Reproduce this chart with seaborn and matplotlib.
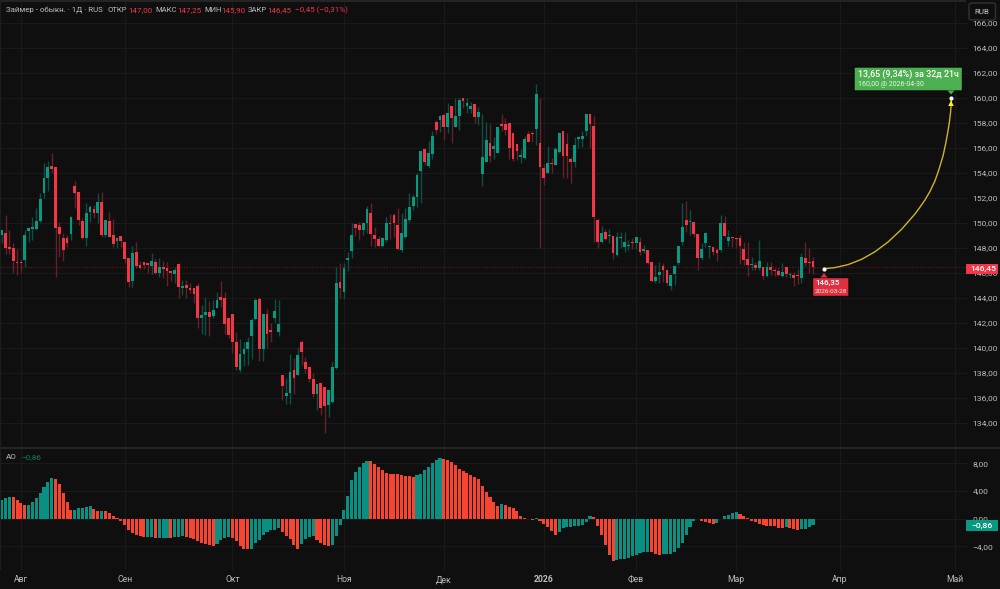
import numpy as np
import pandas as pd
import matplotlib
matplotlib.use("Agg")
import matplotlib.pyplot as plt
from matplotlib.patches import FancyBboxPatch, Polygon, Rectangle
import seaborn as sns

opens = [
    149.04, 149.17, 148.08, 148.00, 146.88, 146.88, 147.07, 149.39, 149.49, 149.52, 150.16, 152.40,
    153.57, 154.56, 154.51, 149.68, 148.80, 148.80, 149.12, 152.96, 152.48, 150.16, 148.77, 150.85,
    151.09, 150.83, 151.68, 149.04, 150.19, 149.04, 148.59, 148.96, 148.48, 147.20, 145.36, 147.65,
    146.64, 146.85, 146.80, 146.56, 146.88, 146.03, 146.51, 146.43, 146.16, 145.95, 146.69, 144.83,
    145.04, 144.83, 144.80, 144.99, 142.43, 142.61, 142.88, 142.53, 143.23, 144.08, 144.03, 142.43,
    142.69, 140.51, 138.27, 139.55, 139.95, 140.99, 142.35, 143.89, 139.92, 142.75, 141.44, 142.40,
    141.31, 137.81, 136.19, 136.37, 138.24, 137.87, 140.48, 138.88, 138.45, 137.52, 136.32, 137.17,
    136.88, 135.47, 135.65, 138.40, 145.31, 144.50, 147.04, 147.76, 149.95, 149.84, 149.41, 150.03,
    150.77, 149.04, 148.72, 148.16, 148.64, 150.00, 150.67, 149.84, 147.84, 148.88, 150.21, 151.36,
    152.08, 154.19, 155.95, 154.53, 155.52, 158.11, 158.27, 158.64, 157.68, 159.39, 157.68, 158.56,
    159.97, 159.36, 159.12, 159.49, 158.48, 153.92, 154.91, 156.40, 155.89, 155.63, 157.95, 157.95,
    158.03, 157.17, 156.32, 155.28, 155.17, 157.12, 157.23, 157.49, 156.43, 154.37, 154.00, 154.80,
    154.67, 155.68, 157.33, 156.32, 155.12, 154.91, 156.72, 156.75, 157.39, 158.75, 157.76, 150.24,
    148.45, 149.28, 148.96, 148.99, 147.44, 148.83, 148.11, 148.13, 148.48, 148.40, 148.48, 147.79,
    147.84, 146.91, 145.39, 145.87, 146.59, 146.24, 144.99, 145.95, 146.77, 148.45, 150.24, 150.11,
    150.08, 149.12, 147.20, 148.37, 148.05, 148.05, 147.84, 147.84, 150.00, 148.59, 148.85, 148.83,
    148.80, 147.89, 147.09, 146.61, 146.67, 146.43, 146.45, 145.76, 146.48, 146.24, 146.16, 145.76,
    146.48, 145.84, 145.87, 145.84, 145.63, 147.17, 146.88, 147.00,
]
highs = [
    149.44, 150.64, 149.44, 148.43, 147.89, 147.09, 149.44, 149.65, 150.45, 151.17, 152.37, 154.83,
    154.99, 155.63, 154.51, 150.08, 149.23, 149.04, 150.56, 153.36, 152.48, 150.37, 151.57, 151.44,
    151.44, 152.43, 152.48, 150.24, 150.91, 150.32, 148.91, 148.96, 148.48, 147.20, 148.19, 148.45,
    146.99, 146.85, 146.80, 147.63, 147.23, 147.17, 146.99, 146.91, 146.16, 146.51, 146.77, 145.44,
    145.44, 145.23, 144.80, 145.17, 143.44, 144.05, 143.79, 143.84, 144.45, 145.39, 144.51, 142.43,
    142.69, 141.31, 140.72, 140.51, 140.91, 142.37, 143.97, 144.11, 142.75, 143.13, 141.97, 143.92,
    143.84, 137.81, 137.57, 139.52, 139.17, 140.11, 140.64, 139.31, 138.45, 137.97, 137.09, 137.17,
    136.88, 136.64, 138.85, 146.51, 146.77, 146.83, 147.71, 149.97, 149.95, 150.05, 150.00, 151.36,
    151.57, 149.71, 148.99, 148.91, 150.51, 150.72, 150.77, 151.17, 150.77, 151.17, 152.37, 152.32,
    153.97, 155.73, 155.95, 156.59, 157.39, 158.24, 158.64, 158.83, 159.63, 159.39, 159.97, 159.97,
    159.97, 159.97, 159.71, 159.49, 159.25, 158.69, 158.11, 157.92, 156.91, 157.71, 158.72, 158.37,
    158.03, 157.17, 156.32, 155.89, 156.99, 157.39, 157.36, 161.12, 159.97, 154.69, 156.19, 155.17,
    156.11, 157.31, 157.33, 157.17, 155.31, 156.91, 156.99, 157.39, 158.75, 158.75, 158.59, 150.37,
    149.79, 149.49, 149.55, 148.99, 149.31, 149.25, 149.25, 148.64, 148.83, 148.85, 148.85, 148.24,
    147.84, 146.91, 146.64, 146.91, 146.83, 146.24, 145.81, 146.61, 148.16, 151.57, 151.76, 151.04,
    150.08, 149.12, 148.37, 149.31, 148.24, 148.05, 147.97, 150.64, 150.56, 149.44, 148.85, 148.83,
    149.04, 148.51, 148.51, 147.31, 146.91, 148.64, 146.45, 146.91, 146.91, 146.37, 146.37, 146.83,
    146.48, 146.11, 146.11, 146.32, 147.57, 148.45, 147.97, 147.25,
]
lows = [
    148.37, 147.52, 147.52, 146.03, 145.84, 146.03, 146.51, 148.45, 148.64, 149.44, 150.11, 151.97,
    152.56, 153.97, 145.71, 147.25, 146.99, 148.11, 148.64, 151.17, 149.84, 148.69, 148.19, 150.11,
    150.37, 150.03, 148.85, 148.85, 148.85, 148.05, 147.97, 148.11, 146.77, 144.85, 144.91, 146.37,
    146.29, 146.29, 145.97, 145.89, 145.92, 145.71, 145.57, 144.99, 145.36, 145.23, 143.97, 144.24,
    144.03, 144.37, 143.63, 141.57, 141.09, 141.04, 140.99, 142.37, 143.17, 143.31, 141.12, 140.77,
    139.63, 138.24, 138.11, 138.56, 138.64, 139.09, 142.24, 138.99, 138.99, 139.97, 140.51, 142.11,
    140.96, 135.84, 135.49, 135.52, 136.29, 137.84, 138.64, 137.97, 137.31, 136.11, 135.04, 134.64,
    133.17, 134.45, 135.57, 138.35, 144.00, 143.90, 146.19, 147.23, 148.99, 148.61, 149.04, 149.17,
    148.19, 148.05, 148.11, 148.11, 148.45, 148.69, 148.91, 147.84, 147.65, 148.77, 150.11, 151.04,
    151.31, 151.57, 154.64, 154.37, 155.09, 157.09, 157.31, 156.64, 157.17, 156.43, 157.65, 157.44,
    159.17, 158.77, 158.77, 157.97, 157.84, 152.99, 154.91, 154.91, 155.09, 155.57, 157.36, 157.04,
    155.09, 154.99, 155.04, 154.77, 155.09, 156.51, 156.51, 156.24, 147.97, 153.04, 153.97, 154.03,
    154.64, 155.63, 153.57, 153.57, 153.17, 154.51, 155.97, 156.11, 156.99, 155.97, 148.45, 147.97,
    148.43, 148.64, 148.37, 147.12, 147.39, 147.97, 147.71, 147.84, 147.89, 147.95, 147.44, 147.57,
    146.72, 145.31, 145.17, 145.17, 145.31, 145.04, 144.64, 145.04, 146.64, 148.24, 149.31, 149.04,
    148.91, 146.24, 147.04, 148.11, 147.17, 147.44, 146.99, 147.71, 148.85, 148.16, 148.11, 147.97,
    146.72, 146.64, 145.79, 146.24, 146.24, 146.24, 145.49, 145.71, 145.84, 145.76, 145.76, 145.65,
    145.71, 145.63, 144.99, 145.09, 145.23, 146.56, 145.97, 145.90,
]
closes = [
    149.44, 148.03, 147.89, 146.93, 146.80, 146.80, 149.04, 149.63, 149.65, 150.19, 151.89, 153.60,
    154.51, 154.35, 149.63, 149.15, 147.84, 148.37, 150.45, 152.43, 150.21, 148.77, 150.80, 151.31,
    150.83, 151.68, 149.01, 150.24, 148.91, 148.35, 148.77, 148.59, 147.15, 145.28, 147.60, 146.59,
    146.43, 146.67, 146.67, 146.96, 146.00, 146.51, 146.35, 146.19, 145.97, 146.27, 144.85, 144.96,
    144.83, 144.64, 144.29, 142.43, 142.64, 142.85, 142.48, 143.07, 143.87, 143.87, 141.95, 141.01,
    140.51, 138.51, 139.55, 139.95, 140.48, 142.27, 143.87, 139.89, 142.75, 141.09, 141.31, 142.96,
    141.92, 136.93, 136.37, 138.11, 137.63, 139.47, 139.65, 138.29, 137.49, 136.29, 137.09, 135.17,
    135.39, 136.64, 138.45, 145.20, 144.83, 146.43, 147.20, 149.01, 149.57, 149.41, 150.00, 151.09,
    149.15, 148.75, 148.13, 148.77, 150.00, 149.95, 149.97, 147.89, 149.20, 150.29, 151.28, 152.08,
    153.84, 155.73, 154.91, 155.57, 156.99, 157.47, 158.56, 157.71, 158.83, 158.40, 158.56, 159.84,
    159.76, 159.60, 159.33, 158.48, 158.91, 155.31, 156.61, 155.36, 156.13, 157.71, 157.79, 157.47,
    156.00, 155.12, 155.76, 155.44, 156.72, 156.51, 157.15, 160.32, 154.48, 153.57, 154.77, 154.72,
    155.95, 157.23, 155.39, 155.36, 154.91, 156.24, 156.91, 156.99, 158.75, 157.95, 150.48, 148.51,
    149.23, 148.69, 149.01, 147.63, 148.91, 148.88, 148.48, 148.19, 148.37, 148.85, 147.65, 147.89,
    146.83, 145.39, 145.65, 146.11, 146.24, 145.17, 145.81, 146.56, 148.16, 149.68, 149.81, 150.19,
    149.12, 147.20, 147.89, 149.17, 148.11, 147.65, 147.57, 150.00, 148.99, 148.85, 148.80, 148.75,
    148.16, 147.04, 146.61, 146.69, 146.43, 146.96, 145.76, 146.45, 146.27, 146.16, 145.84, 146.08,
    145.89, 145.92, 145.57, 145.76, 147.25, 146.83, 146.80, 146.45,
]
ao_values = [
    2.71, 3.04, 3.19, 3.09, 2.71, 2.27, 1.98, 2.03, 2.42, 3.00, 3.72, 4.59,
    5.22, 5.89, 5.65, 4.93, 3.72, 2.46, 1.26, 1.30, 1.59, 1.60, 1.64, 1.84,
    1.40, 1.11, 1.16, 1.11, 0.77, 0.43, 0.10, -0.34, -0.87, -1.64, -2.08, -2.32,
    -2.56, -2.70, -2.66, -2.64, -2.75, -2.74, -2.73, -2.72, -2.75, -2.66, -2.61, -2.56,
    -2.66, -2.75, -2.99, -3.24, -3.43, -3.67, -3.86, -3.88, -3.62, -3.09, -2.75, -2.70,
    -2.80, -3.28, -3.91, -4.35, -4.37, -4.30, -3.48, -3.09, -2.32, -1.93, -1.69, -1.59,
    -1.35, -1.93, -2.51, -2.95, -3.82, -4.35, -3.67, -2.99, -2.66, -2.51, -3.09, -3.48,
    -3.86, -3.96, -3.82, -2.51, -0.87, 1.21, 3.29, 5.51, 6.71, 7.39, 8.02, 8.36,
    8.31, 7.92, 7.49, 7.05, 6.62, 6.47, 6.42, 6.38, 6.33, 6.18, 6.09, 6.04,
    6.23, 6.47, 7.05, 7.49, 8.02, 8.45, 8.69, 8.60, 8.50, 8.16, 7.68, 7.15,
    6.81, 6.57, 6.33, 5.99, 5.65, 4.64, 3.86, 3.09, 2.37, 1.84, 2.08, 1.98,
    1.74, 1.50, 1.16, 0.39, 0.10, -0.10, -0.14, 0.14, -0.29, -0.77, -1.16, -1.79,
    -2.42, -1.88, -1.30, -1.26, -1.21, -1.11, -1.01, -0.92, -0.43, 0.39, 0.19, -1.06,
    -2.42, -3.82, -5.22, -6.09, -5.94, -5.84, -5.75, -5.65, -5.41, -5.17, -4.97, -4.83,
    -4.73, -4.83, -5.07, -5.17, -5.12, -5.10, -5.07, -4.83, -4.25, -3.48, -2.32, -1.16,
    -0.34, -0.02, -0.29, -0.48, -0.68, -0.77, -0.58, -0.10, 0.34, 0.58, 0.77, 0.97,
    0.72, 0.39, 0.05, -0.34, -0.53, -0.77, -0.97, -1.01, -1.04, -1.11, -1.30, -1.35,
    -1.26, -1.35, -1.45, -1.59, -1.55, -1.45, -1.16, -0.86,
]

month_positions = [5, 32, 60, 89, 115, 141, 165, 191, 218, 248]
month_labels = ["Авг", "Сен", "Окт", "Ноя", "Дек", "2026", "Фев", "Мар", "Апр", "Май"]
price_ticks = list(range(134, 168, 2))
ao_ticks = [-4, 0, 4, 8]

# projection curve
curve_index = [213.9, 216.7, 220.1, 223.6, 227.1, 230.5, 234.0, 237.5, 238.8, 240.1, 241.4, 242.7, 243.7,
               244.8, 245.5, 246.1, 246.5, 246.8, 247.0]
curve_price = [146.35, 146.43, 146.67, 147.09, 147.70, 148.48, 149.49, 150.72, 151.26, 151.84, 152.52, 153.36,
               154.24, 155.36, 156.36, 157.36, 158.16, 158.96, 160.00]

last_price = 146.45
last_ao = -0.86

BG = "#0f0f0f"
GRID = "#1a1a1a"
UP = "#089981"
DOWN = "#f23645"
UP_WICK = "#0c4f44"
DOWN_WICK = "#64212a"
AO_UP = "#089182"
AO_DOWN = "#f9452f"
TEXT = "#bdbdbd"

sns.set_theme(style="dark", rc={"axes.facecolor": BG, "figure.facecolor": BG})
plt.rcParams["font.family"] = ["Roboto", "DejaVu Sans"]

W, H = 1000, 589
PANE_RIGHT = 968
PRICE_BOTTOM = 447
AO_TOP = 449
AO_BOTTOM = 570

fig = plt.figure(figsize=(W / 100, H / 100), dpi=100)
ax = fig.add_axes([0, 1 - PRICE_BOTTOM / H, PANE_RIGHT / W, PRICE_BOTTOM / H])
ax_ao = fig.add_axes([0, 1 - AO_BOTTOM / H, PANE_RIGHT / W, (AO_BOTTOM - AO_TOP) / H])

xlim = (-0.434, 251.3)

df = pd.DataFrame({"open": opens, "high": highs, "low": lows, "close": closes})
df["i"] = df.index
df["up"] = df["close"] >= df["open"]
df["top"] = df[["open", "close"]].max(axis=1)
df["bottom"] = df[["open", "close"]].min(axis=1)

ax.set_xlim(*xlim)
ax.set_ylim(132.08, 167.84)
ax.vlines(df["i"], df["low"], df["high"], colors=np.where(df["up"], UP_WICK, DOWN_WICK), lw=1, zorder=3)
ax.bar(df["i"], (df["top"] - df["bottom"]).clip(lower=0.08), bottom=df["bottom"], width=0.72,
       color=np.where(df["up"], UP, DOWN), linewidth=0, zorder=4)
ax.axhline(last_price, color=DOWN, alpha=0.28, lw=1, ls=(0, (1, 1)), zorder=2)

sns.lineplot(x=curve_index, y=curve_price, ax=ax, color="#cdb42a", lw=1.0, sort=False,
             estimator=None, legend=False, zorder=5)

ax.set_yticks(price_ticks)
ax.set_yticklabels([f"{t},00" for t in price_ticks], color=TEXT, fontsize=6.1)
ax.yaxis.tick_right()
ax.tick_params(axis="y", length=0, pad=3.4)
ax.set_xticks(month_positions)
ax.tick_params(axis="x", length=0, labelbottom=False)
ax.grid(True, color=GRID, lw=0.8)
ax.set_axisbelow(True)

ao = pd.DataFrame({"i": range(len(ao_values)), "value": ao_values})
ao["rising"] = ao["value"].diff().fillna(1) >= 0
sns.barplot(data=ao, x="i", y="value", hue="rising", palette={True: AO_UP, False: AO_DOWN},
            native_scale=True, dodge=False, width=0.8, saturation=1, errorbar=None,
            legend=False, linewidth=0, ax=ax_ao, zorder=4)
ax_ao.set_xlim(*xlim)
ax_ao.set_ylim(-7.39, 10.04)
ax_ao.set_xlabel("")
ax_ao.set_ylabel("")
ax_ao.set_yticks(ao_ticks)
ax_ao.set_yticklabels(["−4,00", "0,00", "4,00", "8,00"], color=TEXT, fontsize=6.1)
ax_ao.yaxis.tick_right()
ax_ao.tick_params(axis="y", length=0, pad=3.4)
ax_ao.set_xticks(month_positions)
ax_ao.set_xticklabels(month_labels, color=TEXT, fontsize=6.2)
ax_ao.tick_params(axis="x", length=0, pad=3.6)
ax_ao.get_xticklabels()[5].set_fontweight("bold")
ax_ao.grid(True, color=GRID, lw=0.8)
ax_ao.set_axisbelow(True)

for a in (ax, ax_ao):
    for s in a.spines.values():
        s.set_visible(False)

# overlay in pixel coordinates for labels and the pane furniture
ov = fig.add_axes([0, 0, 1, 1], zorder=10)
ov.set_xlim(0, W)
ov.set_ylim(H, 0)
ov.axis("off")
ov.patch.set_alpha(0)

ov.add_patch(Rectangle((0, 446.5), W, 2, color="#242424", lw=0))
ov.add_patch(Rectangle((0, 0), W, 1.5, color="#242424", lw=0))
ov.add_patch(Rectangle((0, 0), 1.2, H - 19, color="#1e1e1e", lw=0))

# legend row
ov.text(6, 10.5, "Займер - обыкн. · 1Д · RUS", color=TEXT, fontsize=5.7, va="center")
for x, txt, col, size in [(108, "ОТКР", TEXT, 5.5), (128, "147,00", DOWN, 5.8), (155.5, "МАКС", TEXT, 5.5),
                          (177, "147,25", DOWN, 5.8), (204, "МИН", TEXT, 5.5), (221, "145,90", DOWN, 5.8),
                          (247.5, "ЗАКР", TEXT, 5.5), (267, "146,45", DOWN, 5.8),
                          (295, "−0,45 (−0,31%)", DOWN, 5.8)]:
    ov.text(x, 10.5, txt, color=col, fontsize=size, va="center")
ov.text(6, 457, "AO", color=TEXT, fontsize=5.8, va="center")
ov.text(21, 457, "−0,86", color="#0b7f6e", fontsize=5.8, va="center")

# currency button
ov.add_patch(Rectangle((966, 0), 34, 20.5, color=BG, lw=0))
ov.add_patch(FancyBboxPatch((969, 3), 26.5, 17, boxstyle="round,pad=0,rounding_size=2.5",
                            fc=BG, ec="#333333", lw=1))
ov.text(982.2, 11.8, "RUB", color="#c8c8c8", fontsize=5.8, ha="center", va="center")

# axis value tags
ov.add_patch(Rectangle((966, 263.5), 31.5, 10.5, color=DOWN, lw=0))
ov.text(983.5, 268.7, "146,45", color="white", fontsize=6.1, weight="medium", ha="center", va="center")
ov.add_patch(Rectangle((966, 520), 31.5, 11, color=UP, lw=0))
ov.text(982.5, 525.7, "−0,86", color="white", fontsize=6.1, weight="medium", ha="center", va="center")

# target callout
ov.add_patch(FancyBboxPatch((854, 67), 108.5, 24, boxstyle="round,pad=0,rounding_size=1",
                            fc="#4caf50", ec="#0a0a0a", lw=1))
ov.add_patch(Polygon([(947.5, 90.5), (954.5, 90.5), (951, 94.5)], color="#4caf50", lw=0))
ov.text(857.5, 74, "13,65 (9,34%) за 32д 21ч", color="white", fontsize=6.4, weight="medium", va="center")
ov.text(857.5, 84, "160,00 @ 2026-04-30", color="#e9f5ea", fontsize=5.05, va="center")
ov.add_patch(Polygon([(948.2, 106), (953.8, 106), (951, 100.5)], color="#fff01f", lw=0))
ov.scatter([951], [98.3], s=9, color="white", zorder=6, linewidths=0)

# start callout
ov.add_patch(FancyBboxPatch((812.5, 277.5), 36.5, 19, boxstyle="round,pad=0,rounding_size=1",
                            fc="#e0303f", ec="#0a0a0a", lw=1))
ov.add_patch(Polygon([(820.5, 277.5), (827.5, 277.5), (824, 273)], color="#e0303f", lw=0))
ov.text(815, 282.8, "146,35", color="white", fontsize=5.8, weight="medium", va="center")
ov.text(815, 291.3, "2026-03-28", color="#fbe9eb", fontsize=4.6, va="center")
ov.scatter([824.3], [269], s=9, color="white", zorder=6, linewidths=0)

fig.savefig("out.png", dpi=100, facecolor=BG)
